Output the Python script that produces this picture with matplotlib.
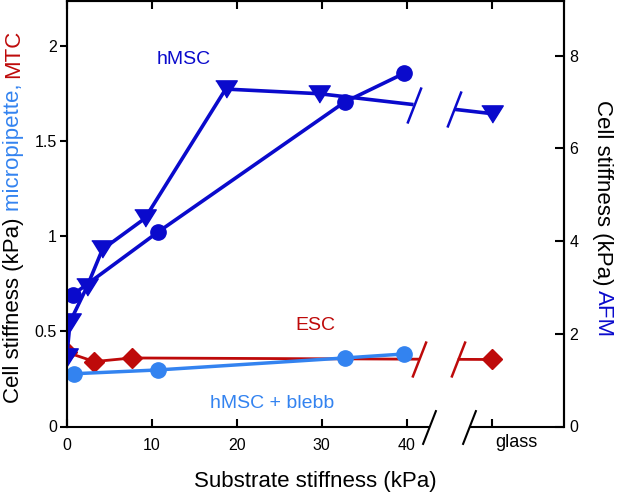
import numpy as np
import matplotlib
matplotlib.use("Agg")
import matplotlib.pyplot as plt
from matplotlib.path import Path

plt.rcParams["font.family"] = ["Liberation Sans", "DejaVu Sans"]

# AFM (right axis), hMSC, triangles
afm_tri_x = [0, 0.4, 2.35, 4.2, 9.2, 18.7, 29.7]
afm_tri_y = [1.49, 2.26, 3.0, 3.82, 4.49, 7.28, 7.18]
afm_tri_glass = 6.75
# AFM (right axis), hMSC, circles
afm_circ_x = [0.7, 10.7, 32.7, 39.7]
afm_circ_y = [2.84, 4.19, 7.0, 7.62]
# micropipette (left axis), hMSC + blebb
blebb_x = [0.8, 10.7, 32.7, 39.7]
blebb_y = [0.277, 0.297, 0.36, 0.381]
# MTC (left axis), ESC
esc_x = [0, 3.25, 7.65]
esc_y = [0.39, 0.341, 0.36]
esc_glass = 0.352

glass_x = 50
xticks = [0, 10, 20, 30, 40, 50]
xtick_labels = ["0", "10", "20", "30", "40", ""]
left_ticks = [0, 0.5, 1, 1.5, 2]
left_tick_labels = ["0", "0.5", "1", "1.5", "2"]
right_ticks = [0, 2, 4, 6, 8]

DARK = "#0A0ACC"
LIGHT = "#3383F0"
RED = "#BE0A0A"

W, H = 617, 494
fig = plt.figure(figsize=(W / 100, H / 100), dpi=100)
ax = fig.add_axes([66.7 / W, 1 - 426.5 / H, (564 - 66.7) / W, (426.5 - 1) / H])
ax2 = ax.twinx()

ax.set_xlim(0, 58.5)
ax.set_ylim(0, 2.235)
ax2.set_ylim(0, 9.18)

slash = Path([(-0.39, -1), (0.39, 1)], [Path.MOVETO, Path.LINETO])


def broken_link(a, x_last, y_last, y_glass, xb1, xb2, color, lw):
    xs = [x_last, glass_x]
    ys = [y_last, y_glass]
    yb1 = np.interp(xb1, xs, ys)
    yb2 = np.interp(xb2, xs, ys)
    a.plot([x_last, xb1], [y_last, yb1], color=color, lw=lw, solid_capstyle="butt")
    a.plot([xb2, glass_x], [yb2, y_glass], color=color, lw=lw, solid_capstyle="butt")
    a.plot([xb1, xb2], [yb1, yb2], ls="none", marker=slash, markersize=26,
           mfc="none", mec=color, mew=1.8)


# left axis: ESC (MTC) and hMSC + blebb (micropipette)
ax.plot(esc_x, esc_y, color=RED, lw=2, marker="D", markersize=10.5)
broken_link(ax, esc_x[-1], esc_y[-1], esc_glass, 41.5, 46.0, RED, 2)
ax.plot([glass_x], [esc_glass], color=RED, marker="D", markersize=10.5)
ax.plot(blebb_x, blebb_y, color=LIGHT, lw=2.5, marker="o", markersize=11)

# right axis: AFM
tri = [(-1, 0.8), (1, 0.8), (0, -0.8)]
ax2.plot(afm_circ_x, afm_circ_y, color=DARK, lw=2.6, marker="o", markersize=11)
ax2.plot(afm_tri_x, afm_tri_y, color=DARK, lw=2.6, marker=tri, markersize=15.5)
broken_link(ax2, afm_tri_x[-1], afm_tri_y[-1], afm_tri_glass, 40.8, 45.6, DARK, 2.6)
ax2.plot([glass_x], [afm_tri_glass], color=DARK, marker=tri, markersize=15.5)

# annotations
ax.text(13.8, 1.906, "hMSC", color=DARK, fontsize=14, ha="center", va="baseline")
ax.text(29.2, 0.507, "ESC", color=RED, fontsize=14, ha="center", va="baseline")
ax.text(24.2, 0.098, "hMSC + blebb", color=LIGHT, fontsize=14, ha="center", va="baseline")

# axes styling
for a in (ax, ax2):
    for s in a.spines.values():
        s.set_linewidth(1.5)
    a.spines["bottom"].set_visible(False)

ax.set_xticks(xticks, xtick_labels)
ax.set_yticks(left_ticks, left_tick_labels)
ax2.set_yticks(right_ticks)
ax.tick_params(axis="x", direction="in", top=True, length=6, width=1.5,
               labelsize=11.5, pad=8)
ax.tick_params(axis="y", direction="out", length=5, width=1.5, labelsize=11.5, pad=2)
ax2.tick_params(axis="y", direction="in", length=6.5, width=1.5, labelsize=11.5, pad=4)

# broken bottom axis
xa = ax.get_xaxis_transform()
ax.plot([0, 42.6], [0, 0], color="black", lw=1.5, transform=xa, clip_on=False,
        solid_capstyle="butt")
ax.plot([47.3, 58.5], [0, 0], color="black", lw=1.5, transform=xa, clip_on=False,
        solid_capstyle="butt")
ax.plot([42.6, 47.3], [0, 0], ls="none", marker=slash, markersize=25, mfc="none",
        mec="black", mew=1.5, transform=xa, clip_on=False)
ax.text(50.4, -0.0482, "glass", fontsize=13, ha="left", va="baseline", transform=xa)

# axis labels
fig.text(315 / W, 7 / H, "Substrate stiffness (kPa)", fontsize=16,
         ha="center", va="baseline")

renderer = fig.canvas.get_renderer()


def text_width(s, size):
    t = fig.text(0, 0, s, fontsize=size)
    w = t.get_window_extent(renderer).width
    t.remove()
    return w


def colored_label(x_px, yc_px, pieces, rotation, size=16):
    full = "".join(p for p, _ in pieces)
    total = text_width(full, size)
    sign = 1 if rotation == 90 else -1
    yc = H - yc_px
    start = yc - sign * total / 2
    prefix = ""
    for piece, color in pieces:
        prefix += piece
        off = text_width(prefix, size) - text_width(piece, size)
        fig.text(x_px / W, (start + sign * off) / H, piece, color=color,
                 fontsize=size, rotation=rotation, rotation_mode="anchor",
                 ha="left", va="baseline")


colored_label(19.5, 216, [("Cell stiffness (kPa) ", "black"),
                          ("micropipette, ", LIGHT), ("MTC", RED)], 90)
colored_label(597.5, 218.5, [("Cell stiffness (kPa) ", "black"),
                             ("AFM", DARK)], 270)

fig.savefig("out.png", dpi=100)
